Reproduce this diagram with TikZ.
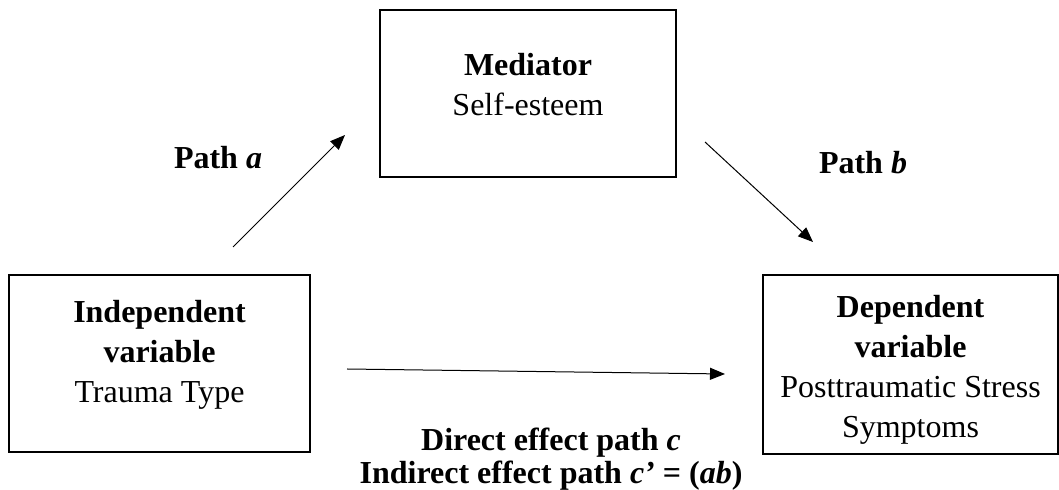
\documentclass[tikz,border=0pt]{standalone}
\usepackage{fontspec}
\setmainfont{Liberation Serif}
\usetikzlibrary{arrows.meta}

% extra depth below the last line, lifts the text in its box
\newcommand{\padbelow}[1]{\rule[-#1]{0pt}{#1}}
% extra height above the first line, lowers the text in its box
\newcommand{\padabove}[1]{\rule{0pt}{#1}}

\begin{document}
\begin{tikzpicture}[x=0.5pt,y=-0.5pt,
						font=\fontsize{16}{20}\selectfont,
						varbox/.style={draw,line width=1pt,inner sep=0pt,align=center},
						effect/.style={-{Triangle[length=7.5pt,width=6pt]},line width=0.5pt},
						pathlabel/.style={font=\fontsize{16}{16.5}\selectfont\bfseries,align=center}]

		\useasboundingbox (0,0) rectangle (1059,490);

		\node [varbox,minimum width=150.5pt,minimum height=88.5pt] (iv) at (159.5,363.5)
			{\textbf{Independent}\\ \textbf{variable}\\ Trauma Type\padbelow{12pt}};
		\node [varbox,minimum width=148pt,minimum height=83.5pt] (med) at (528,93.5)
			{\textbf{Mediator}\\ Self-esteem\padbelow{9.5pt}};
		\node [varbox,minimum width=147.5pt,minimum height=89.5pt] (dv) at (910.5,364.5)
			{\padabove{16pt}\textbf{Dependent}\\ \textbf{variable}\\ Posttraumatic Stress\\ Symptoms};

		\coordinate (a0) at (233,247);
		\coordinate (a1) at (345,135);
		\coordinate (b0) at (705,142);
		\coordinate (b1) at (813,242);
		\coordinate (c0) at (347,369);
		\coordinate (c1) at (725,374);

		\draw [effect] (a0) -- (a1);
		\draw [effect] (b0) -- (b1);
		\draw [effect] (c0) -- (c1);

		\node [pathlabel] (la) at (218,158) {Path \textit{a}};
		\node [pathlabel] (lb) at (863,163) {Path \textit{b}};
		\node [pathlabel] (lc) at (551,459)
			{Direct effect path \textit{c}\\ Indirect effect path \textit{c’} = (\textit{ab})};

	\end{tikzpicture}
\end{document}
